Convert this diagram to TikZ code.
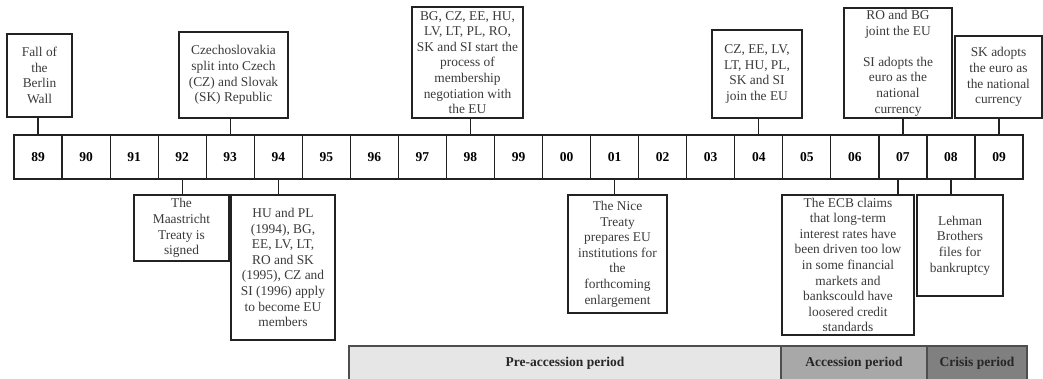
\documentclass[tikz,border=0pt]{standalone}
\usepackage{fontspec}
\setmainfont{Liberation Serif}
\definecolor{txt}{HTML}{3A3A3A}
\definecolor{edge}{HTML}{222222}
\definecolor{pre}{HTML}{E6E6E6}
\definecolor{acc}{HTML}{A8A8A8}
\definecolor{cri}{HTML}{808080}
\tikzset{
  yearbox/.style={draw=edge, line width=1.2pt, minimum width=48.05pt, minimum height=44pt, inner sep=0pt, font=\fontsize{13.5}{15}\selectfont\bfseries, text=black},
  event/.style={draw=edge, line width=1.3pt, inner sep=0pt, align=center, font=\fontsize{13.4}{15.6}\selectfont, text=txt},
  link/.style={draw=edge, line width=1.3pt},
  period/.style={draw=edge!80, line width=1.3pt, inner sep=0pt, minimum height=34pt, font=\fontsize{13.5}{15}\selectfont\bfseries, text=black!85}
}
\begin{document}
\begin{tikzpicture}[x=1pt,y=-1pt]
\useasboundingbox (0,0) rectangle (1043,378);
% year boxes
\foreach \yr [count=\i from 0] in {89,90,91,92,93,94,95,96,97,98,99,00,01,02,03,04,05,06,07,08,09}{
  \node[yearbox] (y\yr) at ({14+48.05*\i+24.025},157) {\yr};
}
% events above
\node[event, minimum width=65pt, minimum height=83pt] (fall) at (39.5,75.5) {Fall of\\the\\Berlin\\Wall};
\node[event, minimum width=109pt, minimum height=86pt] (czech) at (233.5,75) {Czechoslovakia\\split into Czech\\(CZ) and Slovak\\(SK) Republic};
\node[event, minimum width=111pt, minimum height=111pt] (nego) at (467.5,62.5) {BG, CZ, EE, HU,\\LV, LT, PL, RO,\\SK and SI start the\\process of\\membership\\negotiation with\\the EU};
\node[event, minimum width=90pt, minimum height=88pt] (join) at (757,74) {CZ, EE, LV,\\LT, HU, PL,\\SK and SI\\join the EU};
\node[event, minimum width=108pt, minimum height=110pt] (robg) at (898,63) {RO and BG\\joint the EU\\[15.6pt]SI adopts the\\euro as the\\national\\currency};
\node[event, minimum width=87pt, minimum height=82pt] (skeuro) at (998.5,77) {SK adopts\\the euro as\\the national\\currency};
% events below
\node[event, minimum width=95pt, minimum height=66pt] (maas) at (181.5,228) {The\\Maastricht\\Treaty is\\signed};
\node[event, minimum width=104pt, minimum height=145pt] (apply) at (283,267.5) {HU and PL\\(1994), BG,\\EE, LV, LT,\\RO and SK\\(1995), CZ and\\SI (1996) apply\\to become EU\\members};
\node[event, minimum width=99pt, minimum height=118pt] (nice) at (617.5,254) {The Nice\\Treaty\\prepares EU\\institutions for\\the\\forthcoming\\enlargement};
\node[event, minimum width=132pt, minimum height=140pt] (ecb) at (848,265) {The ECB claims\\that long-term\\interest rates have\\been driven too low\\in some financial\\markets and\\bankscould have\\loosered credit\\standards};
\node[event, minimum width=86pt, minimum height=101pt] (lehman) at (960,245.5) {Lehman\\Brothers\\files for\\bankruptcy};
% connectors
\draw[link] (y89.north) -- (y89.north |- fall.south);
\draw[link] (y93.north) -- (y93.north |- czech.south);
\draw[link] (y98.north) -- (y98.north |- nego.south);
\draw[link] (y04.north) -- (y04.north |- join.south);
\draw[link] (y07.north) -- (y07.north |- robg.south);
\draw[link] (y09.north) -- (y09.north |- skeuro.south);
\draw[link] (y92.south) -- (y92.south |- maas.north);
\draw[link] (y94.south) -- (y94.south |- apply.north);
\draw[link] (y01.south) -- (y01.south |- nice.north);
\draw[link] ([xshift=-5pt]y07.south) -- ([xshift=-5pt]y07.south |- ecb.north);
\draw[link] (y08.south) -- (y08.south |- lehman.north);
% periods
\node[period, fill=pre, minimum width=432pt] (preacc) at (565,363) {Pre-accession period};
\node[period, fill=acc, minimum width=146pt] (accp) at (854,363) {Accession period};
\node[period, fill=cri, minimum width=100pt] (crisis) at (977,363) {Crisis period};
\end{tikzpicture}
\end{document}
